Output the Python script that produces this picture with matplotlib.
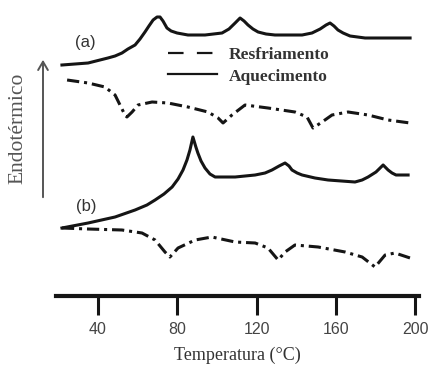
import matplotlib.pyplot as plt
from matplotlib.lines import Line2D

# DSC curves, temperature [°C] vs heat flow [a.u., endo up]
# (a) heating
a_heat_T = [21.8, 28.4, 35.0, 41.0, 45.0, 48.6, 52.1, 55.1, 58.7, 61.2, 63.7, 65.7, 67.8,
            69.8, 71.3, 72.8, 74.8, 76.9, 79.9, 85.4, 94.0, 102.6, 106.1, 109.2, 111.7,
            113.7, 115.7, 118.2, 120.8, 124.8, 129.3, 143.0, 148.0, 152.1, 155.1, 157.1,
            159.1, 161.1, 163.7, 167.2, 174.8, 197.5]
a_heat_q = [231, 232, 233, 236, 238, 240, 243, 247, 251, 257, 264, 270, 276,
            279, 279, 275, 268, 265, 263, 261, 261, 263, 267, 273, 278,
            275, 271, 267, 264, 262, 261, 261, 263, 267, 271, 273,
            270, 266, 263, 260, 258, 258]
# (a) cooling
a_cool_T = [24.4, 35.0, 43.5, 48.6, 51.1, 53.6, 54.6, 57.2, 60.2, 67.3, 75.3, 85.4, 95.5,
            100.6, 103.1, 107.6, 114.2, 125.8, 139.4, 145.5, 148.5, 153.1, 158.1, 166.2,
            176.3, 186.4, 197.5]
a_cool_q = [216, 213, 209, 201, 191, 181, 179, 184, 191, 194, 193, 189, 184,
            178, 173, 181, 191, 188, 184, 179, 168, 174, 181, 184,
            181, 176, 173]
# (b) heating
b_heat_T = [21.8, 35.0, 48.6, 58.7, 64.7, 68.8, 73.3, 77.4, 80.4, 82.9, 84.9, 86.4, 87.9,
            89.4, 90.4, 92.0, 94.0, 96.5, 99.1, 109.2, 119.3, 124.3, 127.8, 131.4, 134.4,
            136.4, 137.9, 140.5, 143.0, 149.5, 156.1, 169.7, 173.3, 176.3, 180.3, 183.9,
            186.4, 188.4, 190.4, 196.5]
b_heat_q = [68, 73, 79, 86, 91, 96, 102, 109, 117, 126, 136, 146, 159,
            149, 143, 135, 128, 122, 119, 119, 121, 123, 126, 130, 133,
            130, 126, 123, 121, 118, 116, 114, 116, 119, 124, 131,
            126, 123, 121, 121]
# (b) cooling
b_cool_T = [21.8, 35.0, 52.1, 62.2, 68.8, 73.8, 76.3, 80.4, 89.0, 97.5, 109.2, 119.3,
            125.8, 130.9, 134.4, 139.4, 151.1, 164.7, 173.3, 179.8, 184.9, 189.9, 197.5]
b_cool_q = [68, 67, 66, 63, 56, 44, 39, 48, 56, 59, 54, 53,
            48, 36, 44, 51, 49, 44, 39, 29, 41, 43, 38]

xticks = [40, 80, 120, 160, 200]

serif = 'Liberation Serif'
sans = 'Liberation Sans'
ink = '#151515'
dashdot = (0, (4, 1.6, 1, 1.6))

fig = plt.figure(figsize=(4.32, 3.68), dpi=100)
ax = fig.add_axes([56/432, 72/368, 363/432, 296/368])

ax.plot(a_heat_T, a_heat_q, '-', color=ink, lw=2.2, solid_joinstyle='round')
ax.plot(a_cool_T, a_cool_q, color=ink, lw=2.2, linestyle=dashdot)
ax.plot(b_heat_T, b_heat_q, '-', color=ink, lw=2.2, solid_joinstyle='round')
ax.plot(b_cool_T, b_cool_q, color=ink, lw=2.2, linestyle=dashdot)

ax.set_xlim(18.8, 202)
ax.set_ylim(0, 296)
for s in ['left', 'top', 'right']:
    ax.spines[s].set_visible(False)
ax.spines['bottom'].set_linewidth(3)
ax.spines['bottom'].set_color(ink)
ax.set_yticks([])
ax.set_xticks(xticks)
ax.tick_params(axis='x', length=14, width=2.2, color=ink, pad=5,
               labelsize=11.5, labelcolor='#444')
for lab in ax.get_xticklabels():
    lab.set_family(sans)
ax.set_xlabel('Temperatura (°C)', family=serif, fontsize=13, color='#333', labelpad=7)

ax.text(85/432, 1 - 42/368, '(a)', transform=fig.transFigure, family=sans,
        fontsize=12, color='#333', ha='center', va='center')
ax.text(86/432, 1 - 207/368, '(b)', transform=fig.transFigure, family=sans,
        fontsize=12, color='#333', ha='center', va='center')

# endothermic arrow and label
ax.annotate('', xy=(43/432, 1 - 57/368), xytext=(43/432, 1 - 200/368),
            xycoords='figure fraction', textcoords='figure fraction',
            arrowprops=dict(arrowstyle='->,head_length=0.6,head_width=0.35',
                            lw=1.4, color='#555'))
fig.text(18/432, 1 - 128/368, 'Endotérmico', rotation=90, family=serif,
         fontsize=15.5, color='#555', ha='center', va='center')

handles = [Line2D([], [], color=ink, lw=1.6, linestyle=(0, (7, 6))),
           Line2D([], [], color=ink, lw=1.6, linestyle='-')]
fig.legend(handles, ['Resfriamento', 'Aquecimento'], loc='upper left',
           bbox_to_anchor=(168/432, 1 - 47/368), frameon=False, borderpad=0,
           borderaxespad=0, handlelength=2.8, handletextpad=0.7, labelspacing=0.3,
           prop=dict(family=serif, weight='bold', size=12.5))
for t in fig.legends[0].get_texts():
    t.set_color('#333')

fig.savefig('out.png', dpi=100)
